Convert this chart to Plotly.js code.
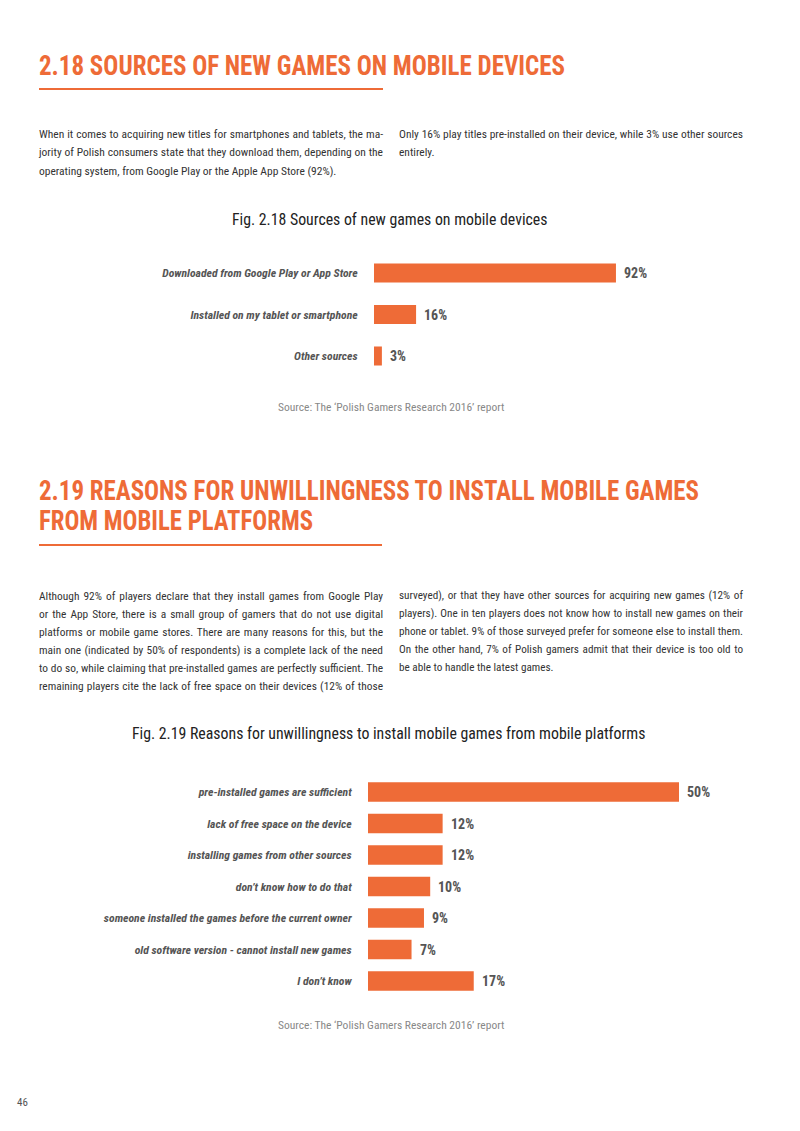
<!DOCTYPE html>
<html><head><meta charset="utf-8">
<script src="https://cdn.plot.ly/plotly-3.0.1.min.js"></script>
<style>
html,body{margin:0;padding:0;background:#fff;}
#page{position:relative;width:800px;height:1131px;overflow:hidden;background:#fff;}
#plot{position:absolute;left:0;top:0;width:800px;height:1131px;}
.abs{position:absolute;}
.h{color:#EE6B37;font-weight:bold;font-size:27px;white-space:nowrap;transform-origin:0 50%;line-height:30px;height:30px;}
.rule{position:absolute;height:2px;background-color:#EE6B37;}
.p{position:absolute;color:#333;width:344px;}
.p div{text-align:justify;text-align-last:justify;white-space:normal;overflow:visible;}
.p div.last{text-align-last:left;}
#meas{position:absolute;left:-5000px;top:0;white-space:nowrap;visibility:hidden;}
</style>
</head>
<body>
<div id="page">
  <div id="plot"></div>
  <div class="abs h" id="h1" style="left:39px;top:51px;" data-w="526">2.18 SOURCES OF NEW GAMES ON MOBILE DEVICES</div>
  <div class="rule" style="left:39px;top:88px;width:344px;"></div>
  <div class="p" id="p1l" style="left:39px;top:124.5px;" data-lh="18.5"></div>
  <div class="p" id="p1r" style="left:399px;top:124.5px;" data-lh="18.5"></div>
  <div class="abs h" id="h2a" style="left:39px;top:476px;" data-w="660">2.19 REASONS FOR UNWILLINGNESS TO INSTALL MOBILE GAMES</div>
  <div class="abs h" id="h2b" style="left:39px;top:506px;" data-w="274">FROM MOBILE PLATFORMS</div>
  <div class="rule" style="left:39px;top:544px;width:343px;"></div>
  <div class="p" id="p2l" style="left:39px;top:587px;" data-lh="18"></div>
  <div class="p" id="p2r" style="left:399px;top:587px;" data-lh="18"></div>
  <span id="meas"></span>
</div>
<script>
// ---------- chart data ----------
const cats1 = ['Downloaded from Google Play or App Store', 'Installed on my tablet or smartphone', 'Other sources'];
const vals1 = [92, 16, 3];
const cats2 = ['pre-installed games are sufficient', 'lack of free space on the device', 'installing games from other sources',
  'don\u2019t know how to do that', 'someone installed the games before the current owner',
  'old software version - cannot install new games', 'I don\u2019t know'];
const vals2 = [50, 12, 12, 10, 9, 7, 17];
const title1 = 'Fig. 2.18 Sources of new games on mobile devices';
const title2 = 'Fig. 2.19 Reasons for unwillingness to install mobile games from mobile platforms';
const sourceText = 'Source: The \u2018Polish Gamers Research 2016\u2019 report';

// ---------- page text ----------
const p1l = ['When it comes to acquiring new titles for smartphones and tablets, the ma-',
  'jority of Polish consumers state that they download them, depending on the',
  'operating system, from Google Play or the Apple App Store (92%).'];
const p1r = ['Only 16% play titles pre-installed on their device, while 3% use other sources', 'entirely.'];
const p2l = ['Although 92% of players declare that they install games from Google Play',
  'or the App Store, there is a small group of gamers that do not use digital',
  'platforms or mobile game stores. There are many reasons for this, but the',
  'main one (indicated by 50% of respondents) is a complete lack of the need',
  'to do so, while claiming that pre-installed games are perfectly sufficient. The',
  'remaining players cite the lack of free space on their devices (12% of those'];
const p2r = ['surveyed), or that they have other sources for acquiring new games (12% of',
  'players). One in ten players does not know how to install new games on their',
  'phone or tablet. 9% of those surveyed prefer for someone else to install them.',
  'On the other hand, 7% of Polish gamers admit that their device is too old to',
  'be able to handle the latest games.'];

// ---------- font detection ----------
function hasFont(f) {
  const c = document.createElement('canvas').getContext('2d');
  const s = 'abcdefghijklmnopqrstuvwxyzABCDEFGHIJ0123456789';
  let diff = false;
  ['monospace', 'serif'].forEach(fb => {
    c.font = '40px ' + fb; const a = c.measureText(s).width;
    c.font = '40px "' + f + '", ' + fb; const b = c.measureText(s).width;
    if (Math.abs(a - b) > 0.5) diff = true;
  });
  return diff;
}
const cands = ['Roboto Condensed', 'Liberation Sans Narrow', 'DejaVu Sans Condensed', 'Roboto'];
let F = 'Roboto';
for (const c of cands) { if (hasFont(c)) { F = c; break; } }
const FAM = F + ', Roboto, sans-serif';
document.getElementById('page').style.fontFamily = '"' + F + '", Roboto, sans-serif';

const meas = document.getElementById('meas');
function natWidth(text, size, weight) {
  meas.style.fontSize = size + 'px';
  meas.style.fontWeight = weight || 'normal';
  meas.style.fontFamily = '"' + F + '", Roboto, sans-serif';
  meas.textContent = text;
  return meas.getBoundingClientRect().width;
}
// headings: fit width
['h1', 'h2a', 'h2b'].forEach(id => {
  const el = document.getElementById(id);
  const w = natWidth(el.textContent, 27, 'bold');
  const t = +el.dataset.w;
  el.style.transform = 'scaleX(' + (t / w).toFixed(4) + ')';
});
// paragraphs
function fillPara(id, lines, lastLeft) {
  const el = document.getElementById(id);
  const lh = +el.dataset.lh;
  let base = 11.5;
  let mx = 0;
  lines.forEach(l => { mx = Math.max(mx, natWidth(l, base)); });
  const size = mx > 342 ? base * 342 / mx : base;
  el.style.fontSize = size.toFixed(2) + 'px';
  lines.forEach((l, i) => {
    const d = document.createElement('div');
    d.textContent = l;
    d.style.height = lh + 'px';
    d.style.lineHeight = lh + 'px';
    if (i === lines.length - 1 && lastLeft) d.className = 'last';
    el.appendChild(d);
  });
}
fillPara('p1l', p1l, true);
fillPara('p1r', p1r, true);
fillPara('p2l', p2l, false);
fillPara('p2r', p2r, true);

// ---------- plotly ----------
const ORANGE = '#EE6B37';
const W = 800, H = 1131;
const px = x => x / W, py = y => 1 - y / H;

const traces = [
  { type: 'bar', orientation: 'h', x: vals1, y: cats1, xaxis: 'x', yaxis: 'y', width: 0.46,
    marker: { color: ORANGE }, hoverinfo: 'none' },
  { type: 'bar', orientation: 'h', x: vals2, y: cats2, xaxis: 'x2', yaxis: 'y2', width: 0.62,
    marker: { color: ORANGE }, hoverinfo: 'none' }
];

const tickFont = { family: FAM, size: 11.7, color: '#555', weight: 'bold', style: 'italic' };
const valFont = { family: FAM, size: 14, color: '#555', weight: 'bold' };

const annotations = [];
vals1.forEach((v, i) => annotations.push({ x: v, y: cats1[i], xref: 'x', yref: 'y', text: v + '%',
  showarrow: false, xanchor: 'left', xshift: 6, font: valFont }));
vals2.forEach((v, i) => annotations.push({ x: v, y: cats2[i], xref: 'x2', yref: 'y2', text: v + '%',
  showarrow: false, xanchor: 'left', xshift: 6, font: valFont }));
annotations.push(
  { xref: 'paper', yref: 'paper', x: px(389), y: py(219), text: title1, showarrow: false,
    xanchor: 'center', yanchor: 'middle', font: { family: FAM, size: 15.8, color: '#222' } },
  { xref: 'paper', yref: 'paper', x: px(388), y: py(733), text: title2, showarrow: false,
    xanchor: 'center', yanchor: 'middle', font: { family: FAM, size: 15.8, color: '#222' } },
  { xref: 'paper', yref: 'paper', x: px(391), y: py(407), text: sourceText, showarrow: false,
    xanchor: 'center', yanchor: 'middle', font: { family: FAM, size: 11.5, color: '#888' } },
  { xref: 'paper', yref: 'paper', x: px(391), y: py(1025), text: sourceText, showarrow: false,
    xanchor: 'center', yanchor: 'middle', font: { family: FAM, size: 11.5, color: '#888' } },
  { xref: 'paper', yref: 'paper', x: px(15), y: py(1102), text: '46', showarrow: false,
    xanchor: 'left', yanchor: 'middle', font: { family: FAM, size: 11, color: '#555' } }
);

const xa = (dom, rng) => ({ domain: dom, range: rng, showgrid: false, zeroline: false, showticklabels: false,
  showline: false, ticks: '', fixedrange: true });
const ya = (dom, cats, anchor) => ({ domain: dom, type: 'category', categoryorder: 'array', categoryarray: cats,
  autorange: 'reversed', showgrid: false, zeroline: false, showline: false, ticks: 'outside', ticklen: 13,
  tickcolor: 'rgba(0,0,0,0)', tickfont: tickFont, anchor: anchor, fixedrange: true });

const layout = {
  width: W, height: H, margin: { l: 0, r: 0, t: 0, b: 0 },
  paper_bgcolor: 'rgba(0,0,0,0)', plot_bgcolor: 'rgba(0,0,0,0)',
  showlegend: false, font: { family: FAM },
  xaxis: Object.assign(xa([px(374), px(637)], [0, 100]), { anchor: 'y' }),
  yaxis: ya([py(376.75), py(252.25)], cats1, 'x'),
  xaxis2: Object.assign(xa([px(368), px(741.2)], [0, 60]), { anchor: 'y2' }),
  yaxis2: ya([py(996.75), py(776.25)], cats2, 'x2'),
  annotations: annotations
};
Plotly.newPlot('plot', traces, layout, { staticPlot: true, displayModeBar: false });
</script>
</body></html>
